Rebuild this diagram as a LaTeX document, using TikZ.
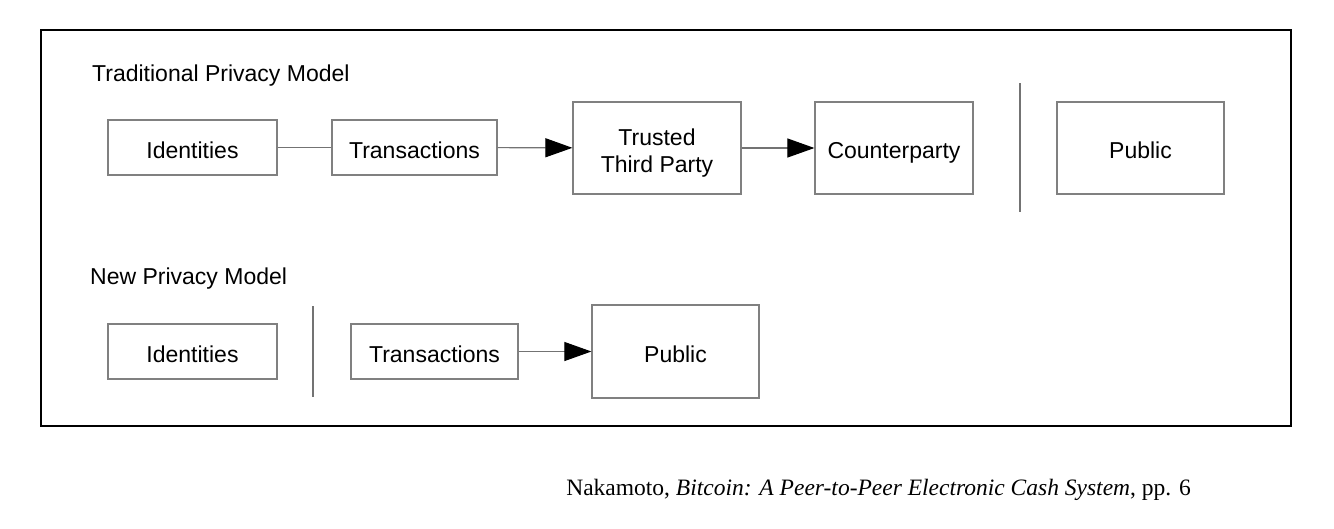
\documentclass[tikz,border=0pt]{standalone}
\usepackage{fontspec}
\setmainfont{Liberation Sans}
\newfontfamily\capfont{Liberation Serif}
\usetikzlibrary{arrows.meta}
\begin{document}
\begin{tikzpicture}[x=1pt,y=-1pt,
  box/.style={draw=black!50, line width=1.2pt, fill=white, inner sep=0pt, align=center,
    font=\fontsize{23}{27}\selectfont, text height=21pt, text depth=0pt},
  title/.style={anchor=base west, inner sep=0pt, font=\fontsize{23}{27}\selectfont},
  link/.style={draw=black!55, line width=1.1pt},
  arr/.style={link, -{Triangle[length=27pt,width=19pt,color=black]}},
  sep/.style={draw=black!55, line width=1.2pt},
  frame/.style={draw=black, line width=2.4pt}]
\useasboundingbox (0,0) rectangle (1334,528);
\fill[white] (0,0) rectangle (1334,528);
\draw[frame] (41,30) rectangle (1291,426);
% Traditional
\node[title] (t1) at (92,81) {Traditional Privacy Model};
\node[box, minimum width=169pt, minimum height=55pt] (id1) at (192.5,147.5) {Identities};
\node[box, minimum width=165pt, minimum height=55pt] (tr1) at (414.5,147.5) {Transactions};
\node[box, minimum width=168pt, minimum height=92pt, text height=48pt] (ttp) at (657,148) {Trusted\\Third Party};
\node[box, minimum width=158pt, minimum height=92pt] (cp) at (894,148) {Counterparty};
\node[box, minimum width=167pt, minimum height=92pt] (pub1) at (1140.5,148) {Public};
\coordinate (s1a) at (1020,83);
\coordinate (s1b) at (1020,212);
\draw[sep] (s1a) -- (s1b);
\draw[link] (id1) -- (tr1);
\draw[arr] (tr1) -- (ttp);
\draw[arr] (ttp) -- (cp);
% New
\node[title] (t2) at (90,284) {New Privacy Model};
\node[box, minimum width=169pt, minimum height=55pt] (id2) at (192.5,351.5) {Identities};
\node[box, minimum width=167pt, minimum height=55pt] (tr2) at (434.5,351.5) {Transactions};
\node[box, minimum width=167pt, minimum height=93pt] (pub2) at (675.5,351.5) {Public};
\coordinate (s2a) at (313,306);
\coordinate (s2b) at (313,397);
\draw[sep] (s2a) -- (s2b);
\draw[arr] (tr2) -- (pub2);
% caption
\node[anchor=base east, inner sep=0pt, font=\capfont\fontsize{23.5}{27}\selectfont] (cap) at (1191,495)
  {Nakamoto, \textit{Bitcoin: A Peer-to-Peer Electronic Cash System}, pp. 6};
\end{tikzpicture}
\end{document}
